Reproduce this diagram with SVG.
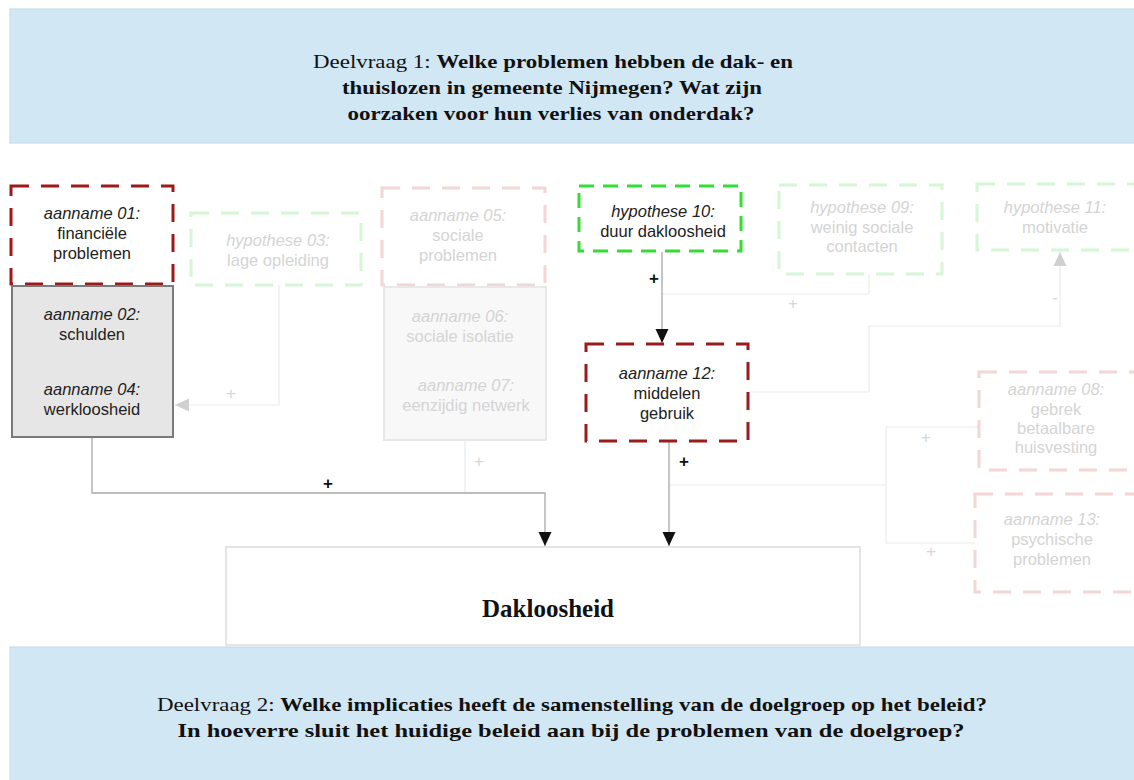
<svg xmlns="http://www.w3.org/2000/svg" width="1134" height="780" viewBox="0 0 1134 780">
<style>
.banner{fill:#d2e7f4;stroke:#c3d8e6;stroke-width:1}
.ttl{font-family:"Liberation Serif","Times New Roman",serif;font-size:19px;fill:#111;text-anchor:middle}
.b{font-weight:bold}
.dr{fill:#fff;stroke:#9b1b1b;stroke-width:3;stroke-dasharray:18 12}
.fr{fill:#fff;stroke:#f3d6d6;stroke-width:3;stroke-dasharray:18 12}
.fg{fill:#fff;stroke:#d6f6d6;stroke-width:3;stroke-dasharray:18 12}
.bg{fill:#fff;stroke:#34dc34;stroke-width:3;stroke-dasharray:15 9}
.gbox{fill:#e6e6e6;stroke:#7a7a7a;stroke-width:2}
.fbox{fill:#f8f8f8;stroke:#e8e8e8;stroke-width:2}
.t{font-family:"Liberation Sans",Arial,sans-serif;font-size:16.5px;fill:#222;text-anchor:middle}
.i{font-style:italic}
.f{fill:#d4d4d4}
.ln{fill:none;stroke:#a8a8a8;stroke-width:1.3}
.fl{fill:none;stroke:#ebebeb;stroke-width:1.2}
.lbl{font-family:"Liberation Sans",Arial,sans-serif;font-size:17px;font-weight:bold;fill:#111;text-anchor:middle}
.flbl{font-family:"Liberation Sans",Arial,sans-serif;font-size:17px;fill:#d6d6d6;text-anchor:middle}
</style>
<defs>
<marker id="ah" markerWidth="14" markerHeight="14" refX="14" refY="7" orient="auto" markerUnits="userSpaceOnUse"><path d="M0,0.5 L14,7 L0,13.5 z" fill="#111"/></marker>
<marker id="fah" markerWidth="14" markerHeight="14" refX="14" refY="7" orient="auto" markerUnits="userSpaceOnUse"><path d="M0,0.5 L14,7 L0,13.5 z" fill="#d0d0d0"/></marker>
</defs>
<rect width="1134" height="780" fill="#fff"/>
<g id="banner1">
<rect class="banner" x="10" y="9" width="1130" height="134"/>
<text class="ttl" x="553" y="68" textLength="480" lengthAdjust="spacingAndGlyphs">Deelvraag 1: <tspan class="b">Welke problemen hebben de dak- en</tspan></text>
<text class="ttl b" x="552" y="94" textLength="420" lengthAdjust="spacingAndGlyphs">thuislozen in gemeente Nijmegen? Wat zijn</text>
<text class="ttl b" x="551" y="120" textLength="407" lengthAdjust="spacingAndGlyphs">oorzaken voor hun verlies van onderdak?</text>
</g>
<g id="banner2">
<rect class="banner" x="10" y="647" width="1130" height="140"/>
<text class="ttl" x="572" y="711" textLength="830" lengthAdjust="spacingAndGlyphs">Deelvraag 2: <tspan class="b">Welke implicaties heeft de samenstelling van de doelgroep op het beleid?</tspan></text>
<text class="ttl b" x="571" y="737" textLength="787" lengthAdjust="spacingAndGlyphs">In hoeverre sluit het huidige beleid aan bij de problemen van de doelgroep?</text>
</g>
<g id="connectors">
<path class="fl" d="M279 285 V405 H175" marker-end="url(#fah)"/>
<path class="fl" d="M465 440 V493"/>
<path class="fl" d="M869 274 V294 H662"/>
<path class="fl" d="M748 392 H869 V326 H1060 V252" marker-end="url(#fah)"/>
<path class="fl" d="M979 427 H886 V543 H975"/>
<path class="fl" d="M886 485 H669"/>
<path class="ln" d="M92 437 V493 H545 V546" marker-end="url(#ah)"/>
<path class="ln" d="M662 252 V343" marker-end="url(#ah)"/>
<path class="ln" d="M669 442 V546" marker-end="url(#ah)"/>
<text class="flbl" x="231" y="399">+</text>
<text class="flbl" x="479" y="467">+</text>
<text class="flbl" x="793" y="309">+</text>
<text class="flbl" x="926" y="443">+</text>
<text class="flbl" x="931" y="557">+</text>
<text class="flbl" x="1055" y="303">-</text>
<text class="lbl" x="328" y="489">+</text>
<text class="lbl" x="654" y="284">+</text>
<text class="lbl" x="684" y="467">+</text>
</g>
<g id="a01">
<rect class="dr" x="11" y="186" width="162" height="98"/>
<text class="t i" x="92" y="219">aanname 01:</text>
<text class="t" x="92" y="239">financiële</text>
<text class="t" x="92" y="259">problemen</text>
</g>
<g id="a02a04">
<rect class="gbox" x="12" y="286" width="161" height="151"/>
<text class="t i" x="92" y="320">aanname 02:</text>
<text class="t" x="92" y="340">schulden</text>
<text class="t i" x="92" y="395">aanname 04:</text>
<text class="t" x="92" y="415">werkloosheid</text>
</g>
<g id="h03">
<rect class="fg" x="191" y="213" width="170" height="72"/>
<text class="t i f" x="278" y="246">hypothese 03:</text>
<text class="t f" x="278" y="266">lage opleiding</text>
</g>
<g id="a05">
<rect class="fr" x="382" y="188" width="163" height="97"/>
<text class="t i f" x="458" y="221">aanname 05:</text>
<text class="t f" x="458" y="241">sociale</text>
<text class="t f" x="458" y="261">problemen</text>
</g>
<g id="a06a07">
<rect class="fbox" x="384" y="287" width="162" height="153"/>
<text class="t i f" x="460" y="322">aanname 06:</text>
<text class="t f" x="460" y="342">sociale isolatie</text>
<text class="t i f" x="466" y="391">aanname 07:</text>
<text class="t f" x="466" y="411">eenzijdig netwerk</text>
</g>
<g id="h10">
<rect class="bg" x="579" y="186" width="162" height="65"/>
<text class="t i" x="663" y="217">hypothese 10:</text>
<text class="t" x="663" y="237">duur dakloosheid</text>
</g>
<g id="a12">
<rect class="dr" x="586" y="344" width="162" height="97"/>
<text class="t i" x="667" y="379">aanname 12:</text>
<text class="t" x="667" y="399">middelen</text>
<text class="t" x="667" y="419">gebruik</text>
</g>
<g id="h09">
<rect class="fg" x="779" y="185" width="163" height="89"/>
<text class="t i f" x="862" y="213">hypothese 09:</text>
<text class="t f" x="862" y="233">weinig sociale</text>
<text class="t f" x="862" y="252">contacten</text>
</g>
<g id="h11">
<rect class="fg" x="977" y="184" width="163" height="66"/>
<text class="t i f" x="1055" y="213">hypothese 11:</text>
<text class="t f" x="1055" y="233">motivatie</text>
</g>
<g id="a08">
<rect class="fr" x="979" y="372" width="160" height="98"/>
<text class="t i f" x="1056" y="395">aanname 08:</text>
<text class="t f" x="1056" y="415">gebrek</text>
<text class="t f" x="1056" y="434">betaalbare</text>
<text class="t f" x="1056" y="453">huisvesting</text>
</g>
<g id="a13">
<rect class="fr" x="975" y="494" width="164" height="98"/>
<text class="t i f" x="1052" y="525">aanname 13:</text>
<text class="t f" x="1052" y="545">psychische</text>
<text class="t f" x="1052" y="565">problemen</text>
</g>
<g id="dakloosheid">
<rect x="226" y="547" width="634" height="98" fill="#fff" stroke="#dcdcdc" stroke-width="1.5"/>
<text x="548" y="617" font-family="'Liberation Serif','Times New Roman',serif" font-size="25" font-weight="bold" fill="#111" text-anchor="middle">Dakloosheid</text>
</g>
</svg>
